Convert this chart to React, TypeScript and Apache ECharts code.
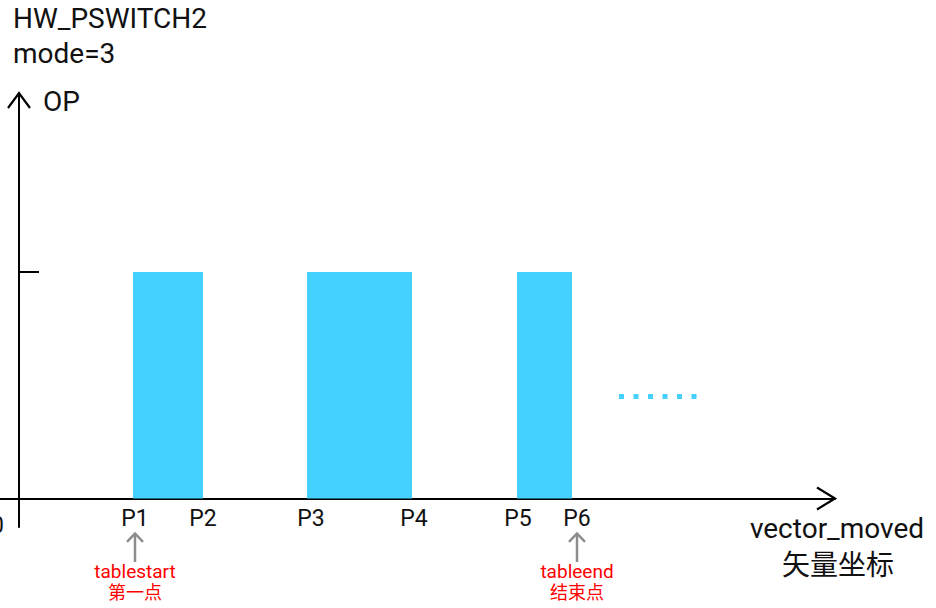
import React, { useEffect, useRef } from "react";
import * as echarts from "echarts";

// ---- data (x in schematic units, y in OP level) ----
const pointLabels = ["P1", "P2", "P3", "P4", "P5", "P6"];
const pointPositions = [116, 184, 292, 395, 499, 558];
const barStarts = [114, 288, 498];
const barEnds = [184, 393, 553];
const barLevels = [1, 1, 1];
const opTicks = [1];
const continuationX = [600, 678];
const continuationY = [0.45, 0.45];
const markerPoints = [116, 558];
const markerTexts = ["tablestart", "tableend"];
const markerTextsZh = ["第一点", "结束点"];

const X_MIN = -19;
const X_MAX = 816;
const Y_MIN = -0.126;
const Y_MAX = 1.79;

const BAR_COLOR = "#45d1ff";
const FONT = "Roboto, 'Noto Sans CJK SC', sans-serif";
const INK = "#111";

export default function App() {
  const ref = useRef<HTMLDivElement>(null);
  useEffect(() => {
    if (!ref.current) return;
    const chart = echarts.init(ref.current, null, { renderer: "svg" });
    const barData = barStarts.map((s, i) => [s, barEnds[i], barLevels[i]]);
    chart.setOption({
      animation: false,
      backgroundColor: "#fff",
      textStyle: { fontFamily: FONT },
      title: {
        text: "HW_PSWITCH2\nmode=3",
        left: 13,
        top: 1,
        padding: 0,
        textStyle: { fontSize: 28, lineHeight: 35, fontWeight: "normal", color: INK, fontFamily: FONT },
      },
      grid: { left: 0, right: 936 - 835, top: 93, bottom: 608 - 527, outerBoundsMode: "none", containLabel: false },
      xAxis: {
        type: "value",
        min: X_MIN,
        max: X_MAX,
        splitLine: { show: false },
        axisLine: { show: true, onZero: true, lineStyle: { color: "#000", width: 2 } },
        axisTick: { show: false },
        axisLabel: {
          show: true,
          customValues: pointPositions,
          formatter: (v: number) => {
            const i = pointPositions.indexOf(v);
            return i >= 0 ? pointLabels[i] : "";
          },
          fontSize: 23,
          color: INK,
          fontFamily: FONT,
          margin: -20.5,
          showMinLabel: true,
          showMaxLabel: true,
          hideOverlap: false,
        },
      },
      yAxis: {
        type: "value",
        min: Y_MIN,
        max: Y_MAX,
        splitLine: { show: false },
        axisLine: { show: true, onZero: true, lineStyle: { color: "#000", width: 2 } },
        axisTick: { show: true, inside: true, length: 20, customValues: opTicks, lineStyle: { color: "#000", width: 2 } },
        axisLabel: { show: false },
      },
      graphic: [
        { type: "text", left: 43, top: 87, style: { text: "OP", fontSize: 28, fill: INK, fontFamily: FONT } },
        { type: "text", x: 4, y: 525, style: { text: "0", fontSize: 23, fill: INK, fontFamily: FONT, align: "right", verticalAlign: "middle" } },
        { type: "text", x: 837, y: 528, style: { text: "vector_moved", fontSize: 28, fill: INK, fontFamily: FONT, align: "center", verticalAlign: "middle" } },
        { type: "text", x: 838, y: 565, style: { text: "矢量坐标", fontSize: 28, fill: INK, fontFamily: FONT, align: "center", verticalAlign: "middle" } },
      ],
      series: [
        {
          type: "custom",
          name: "OP",
          data: barData,
          encode: { x: [0, 1], y: 2 },
          renderItem: (params: any, api: any) => {
            const s = api.coord([api.value(0), api.value(2)]);
            const e = api.coord([api.value(1), 0]);
            return {
              type: "rect",
              shape: { x: s[0], y: s[1], width: e[0] - s[0], height: e[1] - s[1] },
              style: { fill: BAR_COLOR },
            };
          },
          z: 1,
        },
        {
          type: "line",
          data: continuationX.map((x, i) => [x, continuationY[i]]),
          symbol: "none",
          lineStyle: { color: BAR_COLOR, width: 5, type: [5, 9.5], cap: "butt" },
          z: 1,
        },
        {
          type: "custom",
          name: "axisArrows",
          data: [[X_MAX, 0, 0], [0, Y_MAX, 1]],
          clip: false,
          renderItem: (params: any, api: any) => {
            const p = api.coord([api.value(0), api.value(1)]);
            const horizontal = api.value(2) === 0;
            const pts = horizontal
              ? [[p[0] - 18, p[1] - 11], [p[0], p[1]], [p[0] - 18, p[1] + 11]]
              : [[p[0] - 11, p[1] + 15], [p[0], p[1]], [p[0] + 11, p[1] + 15]];
            return {
              type: "polyline",
              shape: { points: pts },
              style: { stroke: "#000", lineWidth: 2.2, fill: "none" },
            };
          },
          z: 5,
        },
        {
          type: "custom",
          name: "markers",
          data: markerPoints.map((x) => [x, 0]),
          clip: false,
          renderItem: (params: any, api: any) => {
            const p = api.coord([api.value(0), 0]);
            const i = params.dataIndex;
            const x = p[0];
            const y = p[1];
            return {
              type: "group",
              children: [
                { type: "line", shape: { x1: x, y1: y + 35, x2: x, y2: y + 63.5 }, style: { stroke: "#8c8c8c", lineWidth: 2.5 } },
                {
                  type: "polyline",
                  shape: { points: [[x - 8, y + 43.5], [x, y + 35], [x + 8, y + 43.5]] },
                  style: { stroke: "#8c8c8c", lineWidth: 2.5, fill: "none" },
                },
                {
                  type: "text",
                  x: x,
                  y: y + 73.5,
                  style: { text: markerTexts[i], fontSize: 19, fill: "#ff0000", fontFamily: FONT, align: "center", verticalAlign: "middle" },
                },
                {
                  type: "text",
                  x: x,
                  y: y + 94.5,
                  style: { text: markerTextsZh[i], fontSize: 18, fill: "#ff0000", fontFamily: FONT, align: "center", verticalAlign: "middle" },
                },
              ],
            };
          },
          z: 5,
        },
      ],
    });
    return () => chart.dispose();
  }, []);
  return (
    <div
      ref={ref}
      style={{ position: "fixed", left: 0, top: 0, width: 936, height: 608, background: "#fff" }}
    />
  );
}
